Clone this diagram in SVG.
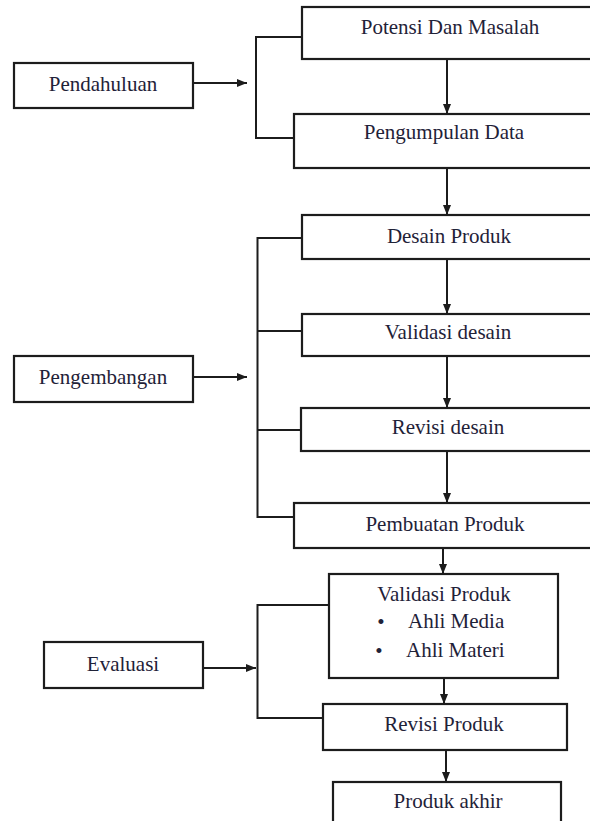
<svg xmlns="http://www.w3.org/2000/svg" width="590" height="821" viewBox="0 0 590 821">
<style>
.box{fill:#fff;stroke:#1c1c1c;stroke-width:2.2}
.lbl{font-family:"Liberation Serif","Times New Roman",serif;font-size:21px;fill:#1f2238;text-anchor:middle}
.lft{text-anchor:start}
.ln{fill:none;stroke:#1c1c1c;stroke-width:2}
.ar{fill:none;stroke:#1c1c1c;stroke-width:2;marker-end:url(#ah)}
</style>
<defs>
<marker id="ah" markerUnits="userSpaceOnUse" markerWidth="10" markerHeight="10" viewBox="0 0 10 10" refX="10" refY="5" orient="auto">
<path d="M0,1 L10,5 L0,9 Z" fill="#1c1c1c"/>
</marker>
</defs>
<rect width="590" height="821" fill="#fff"/>
<g id="connectors">
<path class="ln" d="M302,37 H256 V138 H294"/>
<path class="ar" d="M193,83 H247"/>
<path class="ln" d="M302,238 H257.5 V517 H294"/>
<path class="ln" d="M257.5,331 H302"/>
<path class="ln" d="M257.5,430 H301"/>
<path class="ar" d="M193,377 H247"/>
<path class="ln" d="M329,605 H257.5 V718 H323"/>
<path class="ar" d="M203,668 H256"/>
<path class="ar" d="M447,59 V114"/>
<path class="ar" d="M447,168 V215"/>
<path class="ar" d="M447,259 V314"/>
<path class="ar" d="M447,356 V408"/>
<path class="ar" d="M447,451 V503"/>
<path class="ar" d="M443,548 V574"/>
<path class="ar" d="M444,678 V704"/>
<path class="ar" d="M446,750 V782"/>
</g>
<g id="pendahuluan"><rect class="box" x="14" y="63" width="179" height="45"/><text class="lbl" x="103" y="91">Pendahuluan</text></g>
<g id="potensi"><rect class="box" x="302" y="7" width="300" height="52"/><text class="lbl" x="450" y="34">Potensi Dan Masalah</text></g>
<g id="pengumpulan"><rect class="box" x="294" y="114" width="310" height="54"/><text class="lbl" x="444" y="139">Pengumpulan Data</text></g>
<g id="pengembangan"><rect class="box" x="14" y="356" width="179" height="46"/><text class="lbl" x="103" y="384">Pengembangan</text></g>
<g id="desain"><rect class="box" x="302" y="215" width="300" height="44"/><text class="lbl" x="449" y="243">Desain Produk</text></g>
<g id="validasi-desain"><rect class="box" x="302" y="314" width="300" height="42"/><text class="lbl" x="448" y="339">Validasi desain</text></g>
<g id="revisi-desain"><rect class="box" x="301" y="408" width="300" height="43"/><text class="lbl" x="448" y="434">Revisi desain</text></g>
<g id="pembuatan"><rect class="box" x="294" y="503" width="310" height="45"/><text class="lbl" x="445" y="531">Pembuatan Produk</text></g>
<g id="evaluasi"><rect class="box" x="44" y="642" width="159" height="46"/><text class="lbl" x="123" y="671">Evaluasi</text></g>
<g id="validasi-produk"><rect class="box" x="329" y="574" width="229" height="104"/>
<text class="lbl" x="444" y="601">Validasi Produk</text>
<text class="lbl" x="381" y="629">•</text><text class="lbl lft" x="408" y="628">Ahli Media</text>
<text class="lbl" x="379" y="658">•</text><text class="lbl lft" x="406" y="657">Ahli Materi</text>
</g>
<g id="revisi-produk"><rect class="box" x="323" y="704" width="244" height="46"/><text class="lbl" x="444" y="731">Revisi Produk</text></g>
<g id="produk-akhir"><rect class="box" x="333" y="782" width="228" height="60"/><text class="lbl" x="448" y="808">Produk akhir</text></g>
</svg>
